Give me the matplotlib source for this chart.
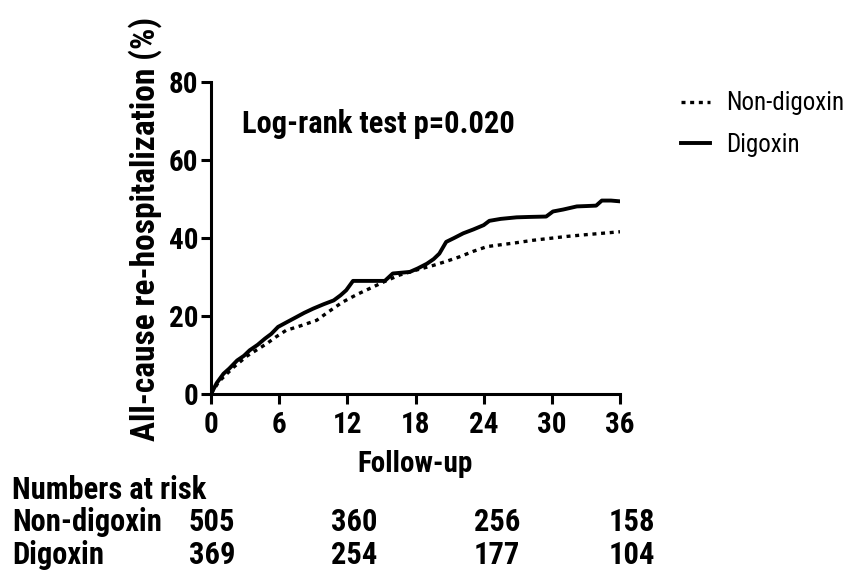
import matplotlib.pyplot as plt

BOLD = ['Roboto Condensed', 'Liberation Sans', 'DejaVu Sans']
plt.rcParams['font.family'] = BOLD

# cumulative re-hospitalization (%)
dig_t = [0, 0.5, 1.1, 1.6, 2.3, 2.9, 3.4, 4.1, 4.75, 5.3, 5.9, 6.6, 7.5, 8.2, 9.0, 9.9, 10.8, 11.4,
         11.9, 12.5, 13.5, 15.3, 16.0, 17.5, 18.2, 19.0, 19.6, 20.1, 20.7, 21.4, 22.2, 23.1, 24.0,
         24.5, 25.5, 26.9, 28.0, 29.5, 30.1, 31.0, 32.2, 33.1, 33.9, 34.4, 35.2, 36.0]
dig_y = [0, 2.8, 5.2, 6.5, 8.6, 9.8, 11.2, 12.6, 14.2, 15.4, 17.2, 18.3, 19.7, 20.8, 21.9, 23.0, 24.0, 25.3,
         26.6, 29.0, 29.0, 29.0, 30.9, 31.3, 32.2, 33.4, 34.6, 36.0, 39.0, 40.0, 41.2, 42.2, 43.3,
         44.4, 44.9, 45.3, 45.4, 45.5, 46.8, 47.3, 48.1, 48.2, 48.3, 49.6, 49.6, 49.4]

non_t = [0, 0.7, 2.0, 3.2, 4.9, 5.7, 6.6, 7.9, 9.3, 10.4, 11.6, 12.9, 14.3, 15.4, 16.6, 18.1, 19.6,
         20.8, 21.9, 23.1, 24.3, 25.6, 26.9, 28.3, 29.8, 31.3, 32.8, 34.4, 36.0]
non_y = [0, 3.2, 6.9, 9.8, 12.9, 14.6, 16.3, 17.5, 18.9, 21.2, 23.6, 25.6, 27.5, 29.0, 30.5, 31.8, 33.0,
         34.1, 35.2, 36.6, 37.8, 38.3, 38.8, 39.4, 39.9, 40.4, 40.8, 41.2, 41.6]

x_ticks = [0, 6, 12, 18, 24, 30, 36]
y_ticks = [0, 20, 40, 60, 80]

risk_labels = ['Non-digoxin', 'Digoxin']
risk_non = [505, 360, 256, 158]
risk_dig = [369, 254, 177, 104]

fig = plt.figure(figsize=(8.46, 5.71), dpi=100)
ax = fig.add_axes([211 / 846, 1 - 394 / 571, 409 / 846, 312 / 571])

ax.plot(non_t, non_y, color='black', lw=2.4, linestyle=(0, (1.2, 1.4)), label='Non-digoxin')
ax.plot(dig_t, dig_y, color='black', lw=2.8, label='Digoxin')

ax.set_xlim(0, 36)
ax.set_ylim(0, 80)
ax.set_xticks(x_ticks)
ax.set_yticks(y_ticks)
for s in ['top', 'right']:
    ax.spines[s].set_visible(False)
for s in ['left', 'bottom']:
    ax.spines[s].set_linewidth(2.2)
ax.tick_params(width=2.2, length=7, labelsize=21)
ax.tick_params(axis='x', pad=5)
ax.tick_params(axis='y', pad=2)
for lab in ax.get_xticklabels() + ax.get_yticklabels():
    lab.set_fontweight('bold')

ax.set_ylabel('All-cause re-hospitalization (%)', fontsize=24, fontweight='bold')
ax.yaxis.set_label_coords(-0.12, 0.53)
ax.set_xlabel('Follow-up', fontsize=21, fontweight='bold', labelpad=8)

ax.text(0.076, 0.8365, 'Log-rank test p=0.020', transform=ax.transAxes, fontsize=22,
        fontweight='bold', va='baseline')

fig.legend(loc='center left', bbox_to_anchor=(681 / 846, 1 - 124 / 571), frameon=False,
           prop={'family': 'Roboto Condensed', 'size': 18}, handlelength=1.15,
           handletextpad=0.65, labelspacing=0.7, borderpad=0, borderaxespad=0)

# numbers at risk table
fig.text(12 / 846, 1 - 490 / 571, 'Numbers at risk', fontsize=22, fontweight='bold', va='center')
xs = [212, 354, 497, 632]
for row, (lab, vals) in enumerate(zip(risk_labels, [risk_non, risk_dig])):
    yy = 1 - (522 + 33 * row) / 571
    fig.text(12 / 846, yy, lab, fontsize=22, fontweight='bold', va='center')
    for x, v in zip(xs, vals):
        fig.text(x / 846, yy, str(v), fontsize=22, fontweight='bold', va='center', ha='center')

fig.savefig('out.png', dpi=100)
